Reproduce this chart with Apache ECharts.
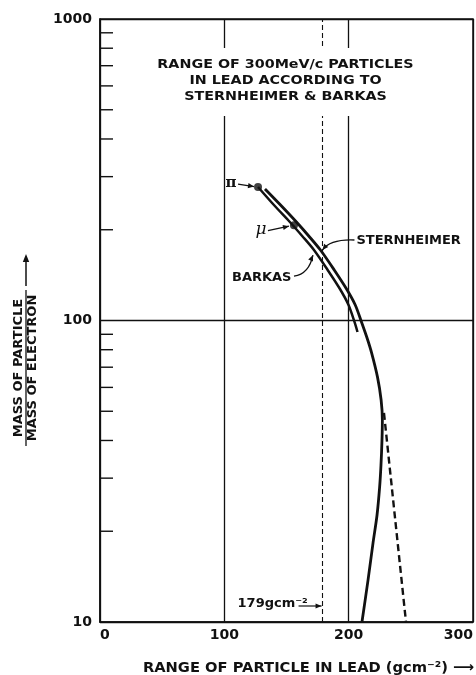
<!DOCTYPE html>
<html><head><meta charset="utf-8">
<script src="https://cdn.jsdelivr.net/npm/echarts@6/dist/echarts.min.js"></script>
<style>html,body{margin:0;padding:0;background:#fff}#c{width:476px;height:675px}</style>
</head><body><div id="c"></div>
<script>
// ---- data ----
const xTickLabels = ['0','100','200','300'];
const yTickLabels = ['10','100','1000'];
const minorTicks = [20,30,40,50,60,70,80,90,200,300,400,500,600,700,800,900];
const barkas = [[127.1,277.3],[139.9,241.6],[152.7,212.2],[162.6,190.7],[172.1,171.3],[183.1,147.1],[193.0,127.2],[199.9,112.6],[204.7,98.9],[207.1,91.6]];
const sternheimer = [[132.7,273.1],[145.2,241.6],[158.0,212.2],[167.9,190.7],[177.3,171.3],[188.4,147.1],[198.3,127.2],[205.3,112.6],[210.3,98.9],[214.8,87.5],[218.5,78.0],[223.2,64.9],[226.1,54.5],[227.1,46.8],[226.8,40.1],[226.0,33.2],[224.9,28.0],[222.8,22.6],[219.6,18.3],[215.6,13.8],[210.7,10]];
const sternheimerDashed = [[228.4,49.4],[246.1,10]];
const particleNames = ['π','μ'];
const particleRange = [127.1,156];
const particleMass = [277,207];
const rangeMarker = 179;
const titleLines = ['RANGE OF 300MeV/c PARTICLES','IN LEAD ACCORDING TO','STERNHEIMER & BARKAS'];

const FONT = '"DejaVu Sans"';
const INK = '#111';
const chart = echarts.init(document.getElementById('c'), null, {renderer:'canvas'});
const option = {
  animation:false,
  backgroundColor:'#fff',
  grid:{left:100,right:3,top:19,bottom:53,show:true,borderColor:INK,borderWidth:1.5,backgroundColor:'transparent',
        containLabel:false,outerBoundsMode:'none'},
  xAxis:{type:'value',min:0,max:300,interval:100,
    axisLine:{show:true,lineStyle:{color:INK,width:1.5}},
    axisTick:{show:false},
    splitLine:{show:true,lineStyle:{color:INK,width:1.3}},
    axisLabel:{fontFamily:FONT,fontWeight:'bold',fontSize:14,color:INK,margin:6,
      alignMinLabel:'left',alignMaxLabel:'right',
      formatter:(v)=>xTickLabels[Math.round(v/100)]},
    name:'RANGE OF PARTICLE IN LEAD (gcm⁻²) ⟶', nameLocation:'middle', nameGap:39,
    nameTextStyle:{fontFamily:FONT,fontWeight:'bold',fontSize:14.7,color:INK,padding:[0,0,0,44]}
  },
  yAxis:{type:'log',logBase:10,min:10,max:1000,
    axisLine:{show:true,lineStyle:{color:INK,width:1.5}},
    axisTick:{show:false},
    splitLine:{show:true,lineStyle:{color:INK,width:1.3}},
    axisLabel:{fontFamily:FONT,fontWeight:'bold',fontSize:14,color:INK,margin:8,
      formatter:(v)=>yTickLabels[Math.round(Math.log10(v))-1]}
  },
  series:[
    {type:'custom',name:'minor ticks',coordinateSystem:'cartesian2d',silent:true,clip:false,z:3,
     data:minorTicks.map(v=>[0,v]),
     renderItem:(params,api)=>{const pt=api.coord([0,api.value(1)]);
       return {type:'line',shape:{x1:pt[0],y1:pt[1],x2:pt[0]+13,y2:pt[1]},style:{stroke:INK,lineWidth:1.4}};}},
    {type:'line',name:'Barkas',data:barkas,smooth:0.3,symbol:'none',lineStyle:{color:INK,width:2.5},z:4},
    {type:'line',name:'Sternheimer',data:sternheimer,smooth:0.3,symbol:'none',lineStyle:{color:INK,width:2.8},z:4},
    {type:'line',name:'Sternheimer (dashed)',data:sternheimerDashed,symbol:'none',lineStyle:{color:INK,width:2.4,type:[7,4]},z:4},
    {type:'scatter',name:'particles',data:particleRange.map((x,i)=>[x,particleMass[i]]),symbolSize:8,itemStyle:{color:INK},z:6,
     markLine:{silent:true,symbol:['none','none'],label:{show:false},lineStyle:{type:[5,3],color:INK,width:1.1},data:[{xAxis:rangeMarker}]}}
  ]
};
chart.setOption(option);

const p = d => chart.convertToPixel({gridIndex:0}, d);
function head(tip, from, len, w){ len=len||7; w=w||3;
  const dx=tip[0]-from[0], dy=tip[1]-from[1]; const L=Math.hypot(dx,dy)||1; const ux=dx/L, uy=dy/L;
  const bx=tip[0]-ux*len, by=tip[1]-uy*len;
  return {type:'polygon',shape:{points:[tip,[bx-uy*w,by+ux*w],[bx+uy*w,by-ux*w]]},style:{fill:INK},z:60}; }
function seg(a,b,w){ return {type:'line',shape:{x1:a[0],y1:a[1],x2:b[0],y2:b[1]},style:{stroke:INK,lineWidth:w||1.3},z:60}; }
function add(a,o){ return [a[0]+o[0],a[1]+o[1]]; }
function txt(x,y,t,font,align,extra){ return Object.assign({type:'text',x:x,y:y,z:61,style:{text:t,font:font,fill:INK,align:align||'left',verticalAlign:'middle'}},extra||{}); }

const g = [];
const gl = 100, gr = 473;
const cx = (gl+gr)/2 - 1;
// title box
g.push({type:'rect',shape:{x:150,y:48,width:272,height:68},style:{fill:'#fff'},z:50});
titleLines.forEach((t,i)=>g.push(txt(cx,65+i*16,t,'bold 13px '+FONT,'center',{scaleX:1.1,originX:0})));

const piPt = p([particleRange[0],particleMass[0]]);
const muPt = p([particleRange[1],particleMass[1]]);
g.push(txt(piPt[0]-27,piPt[1]-4,particleNames[0],'bold 15px "DejaVu Serif"','center'));
{ const a=add(piPt,[-20,-3]), b=add(piPt,[-4,-0.5]); g.push(seg(a,b,1.3), head(b,a,6,2.6)); }
g.push(txt(muPt[0]-33,muPt[1]+4,particleNames[1],'italic 17px "DejaVu Serif"','center'));
{ const a=add(muPt,[-26,5.5]), b=add(muPt,[-5,1]); g.push(seg(a,b,1.3), head(b,a,6,2.6)); }

const sAnchor = p([177.3,171.3]);
g.push(txt(sAnchor[0]+36,sAnchor[1]-9,'STERNHEIMER','bold 13px '+FONT,'left'));
{ const s=add(sAnchor,[34,-10]), c=add(sAnchor,[10,-11]), e=add(sAnchor,[2,0]);
  g.push({type:'bezierCurve',shape:{x1:s[0],y1:s[1],x2:e[0],y2:e[1],cpx1:c[0],cpy1:c[1]},style:{stroke:INK,lineWidth:1.3,fill:null},z:60}, head(e,add(sAnchor,[6,-5]),6,2.6)); }
const bAnchor = p([172.1,171.3]);
g.push(txt(bAnchor[0]-82,bAnchor[1]+28,'BARKAS','bold 13px '+FONT,'left'));
{ const s=add(bAnchor,[-20,26]), c=add(bAnchor,[-5,24]), e=add(bAnchor,[-1,5]);
  g.push({type:'bezierCurve',shape:{x1:s[0],y1:s[1],x2:e[0],y2:e[1],cpx1:c[0],cpy1:c[1]},style:{stroke:INK,lineWidth:1.3,fill:null},z:60}, head(e,add(bAnchor,[-4,12]),6,2.6)); }

const mAnchor = p([rangeMarker,10]);
g.push(txt(mAnchor[0]-85,mAnchor[1]-18,'179gcm⁻²','bold 13px '+FONT,'left'));
{ const a=add(mAnchor,[-24,-16]), b=add(mAnchor,[-1,-16]); g.push(seg(a,b,1.2), head(b,a,6,2.5)); }

// y axis name (rotated fraction)
g.push({type:'group',x:26,y:368,rotation:Math.PI/2,children:[
  {type:'text',z:61,style:{text:'MASS OF PARTICLE',x:0,y:-7,font:'bold 13px '+FONT,fill:INK,align:'center',verticalAlign:'middle'}},
  {type:'line',z:61,shape:{x1:-78,y1:0,x2:78,y2:0},style:{stroke:INK,lineWidth:1.3}},
  {type:'text',z:61,style:{text:'MASS OF ELECTRON',x:0,y:7,font:'bold 13px '+FONT,fill:INK,align:'center',verticalAlign:'middle'}},
  {type:'line',z:61,shape:{x1:82,y1:0,x2:108,y2:0},style:{stroke:INK,lineWidth:1.5}},
  {type:'polygon',z:61,shape:{points:[[114,0],[106,-3.2],[106,3.2]]},style:{fill:INK}}
]});
chart.setOption({graphic:g});
</script></body></html>
